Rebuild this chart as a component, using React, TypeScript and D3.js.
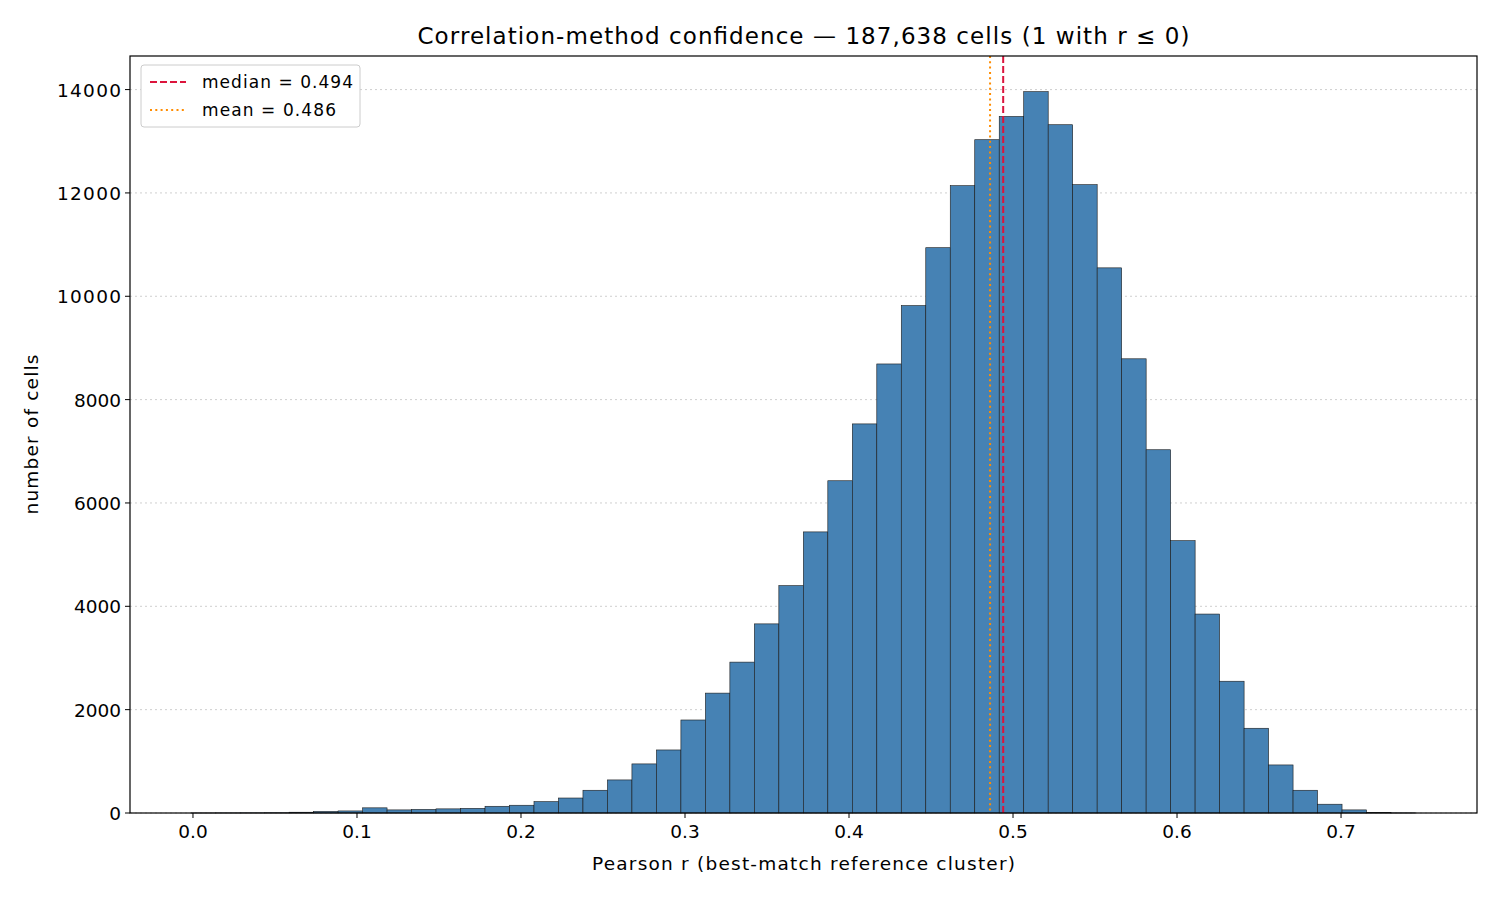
import React from 'react';
import * as d3 from 'd3';

// histogram: 50 bins starting at binStart, width binWidth
const binStart = -0.0011;
const binWidth = 0.01493;
const counts = [
  1, 2, 3, 5, 15, 30, 40, 100, 60, 70,
  80, 90, 130, 150, 220, 290, 440, 640, 950, 1220,
  1800, 2320, 2920, 3660, 4400, 5440, 6430, 7530, 8690, 9820,
  10940, 12140, 13030, 13480, 13960, 13320, 12160, 10550, 8790, 7030,
  5270, 3850, 2550, 1640, 930, 440, 170, 60, 10, 2,
];
const xTicks = [0, 0.1, 0.2, 0.3, 0.4, 0.5, 0.6, 0.7];
const yTicks = [0, 2000, 4000, 6000, 8000, 10000, 12000, 14000];
const median = 0.494;
const mean = 0.486;

const W = 1500, H = 900;
const m = { left: 130, right: 1477, top: 56, bottom: 813 };

const App: React.FC = () => {
  const x = d3.scaleLinear().domain([-0.0384, 0.7829]).range([m.left, m.right]);
  const y = d3.scaleLinear().domain([0, 14650]).range([m.bottom, m.top]);
  const font = 'DejaVu Sans, sans-serif';

  return (
    <div style={{ position: 'absolute', left: 0, top: 0 }}>
      <svg width={W} height={H} style={{ display: 'block', background: '#fff' }} fontFamily={font}>
        {yTicks.map(t => (
          <line key={'g' + t} x1={m.left} x2={m.right} y1={y(t)} y2={y(t)}
            stroke="#cfcfcf" strokeWidth={1} strokeDasharray="2,3" />
        ))}
        {counts.map((c, i) => {
          const x0 = x(binStart + i * binWidth);
          const x1 = x(binStart + (i + 1) * binWidth);
          return (
            <rect key={i} x={x0} width={x1 - x0} y={y(c)} height={y(0) - y(c)}
              fill="#4682b4" stroke="#1a1a1a" strokeWidth={0.6} />
          );
        })}
        <line x1={x(median)} x2={x(median)} y1={m.top} y2={m.bottom}
          stroke="crimson" strokeWidth={2} strokeDasharray="7,3" />
        <line x1={x(mean)} x2={x(mean)} y1={m.top} y2={m.bottom}
          stroke="darkorange" strokeWidth={2} strokeDasharray="2,3.3" />
        <rect x={m.left} y={m.top} width={m.right - m.left} height={m.bottom - m.top}
          fill="none" stroke="#000" strokeWidth={1.2} />
        {xTicks.map(t => (
          <g key={'x' + t}>
            <line x1={x(t)} x2={x(t)} y1={m.bottom} y2={m.bottom + 5} stroke="#000" />
            <text x={x(t)} y={m.bottom + 25} textAnchor="middle" fontSize={18.5}>{t.toFixed(1)}</text>
          </g>
        ))}
        {yTicks.map(t => (
          <g key={'y' + t}>
            <line x1={m.left - 5} x2={m.left} y1={y(t)} y2={y(t)} stroke="#000" />
            <text x={m.left - 9} y={y(t) + 7} textAnchor="end" fontSize={18.5} textLength={t >= 10000 ? 64 : undefined}>{t}</text>
          </g>
        ))}
        <text x={(m.left + m.right) / 2} y={870} textAnchor="middle" fontSize={18.5} textLength={423}>
          Pearson r (best-match reference cluster)
        </text>
        <text transform={`translate(38,${(m.top + m.bottom) / 2}) rotate(-90)`} textAnchor="middle" fontSize={18.5} textLength={160}>
          number of cells
        </text>
        <text x={(m.left + m.right) / 2} y={44} textAnchor="middle" fontSize={23} textLength={772}>
          Correlation-method confidence — 187,638 cells (1 with r ≤ 0)
        </text>
        <g>
          <rect x={141} y={65} width={219} height={62} rx={3} fill="#fff" stroke="#ccc" />
          <line x1={150} x2={186} y1={82} y2={82} stroke="crimson" strokeWidth={2} strokeDasharray="7,3" />
          <text x={202} y={88} fontSize={17} textLength={151}>median = 0.494</text>
          <line x1={150} x2={186} y1={110} y2={110} stroke="darkorange" strokeWidth={2} strokeDasharray="2,3.3" />
          <text x={202} y={116} fontSize={17} textLength={134}>mean = 0.486</text>
        </g>
      </svg>
    </div>
  );
};

export default App;
